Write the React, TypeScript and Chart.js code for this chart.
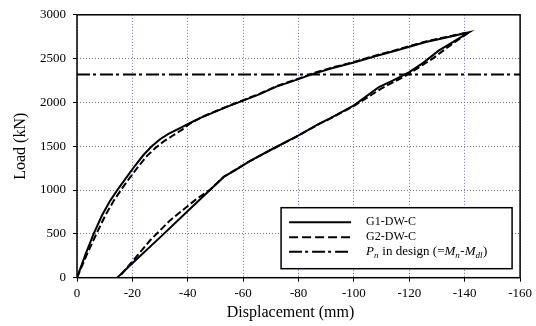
import React, { useEffect, useRef } from 'react';
import { Chart, registerables } from 'chart.js';

Chart.register(...registerables);

// G1-DW-C (solid): loading branch then unloading branch
const g1Disp = [
  0, -3, -6, -9, -12, -15, -18, -21, -24, -27, -30, -33, -37, -41, -45, -50, -55, -60, -66, -72, -80, -85, -92, -100, -108, -115, -120, -126, -133, -140, -141.5,
  -136, -130.6, -125, -120, -114, -109, -100, -91.2, -87.5, -80, -70, -62.4, -57, -53, -48, -40, -30, -20, -14.5,
];
const g1Load = [
  0, 260, 500, 710, 880, 1020, 1150, 1280, 1400, 1500, 1580, 1640, 1705, 1768, 1830, 1895, 1960, 2020, 2095, 2180, 2266, 2323, 2390, 2455, 2530, 2590, 2636, 2690, 2738, 2789, 2800,
  2695, 2591, 2452, 2345, 2250, 2174, 1966, 1815, 1758, 1625, 1460, 1330, 1225, 1150, 1000, 760, 460, 165, 0,
];

// G2-DW-C (dashed)
const g2Disp = [
  0, -3.5, -7, -10.2, -13.3, -16.3, -19.3, -22.3, -25.3, -28.3, -31.3, -34.5, -38, -41, -45, -50, -55, -60, -66, -72, -80, -85, -92, -100, -108, -115, -120, -126, -133, -140, -141.5,
  -136, -128.3, -118.6, -110, -100, -91.2, -87.5, -80, -70, -62.4, -57, -53, -48, -43.3, -33.7, -26.5, -20.5, -15,
];
const g2Load = [
  0, 260, 500, 710, 880, 1020, 1150, 1275, 1390, 1480, 1555, 1620, 1690, 1762, 1832, 1900, 1965, 2025, 2100, 2185, 2272, 2330, 2397, 2462, 2537, 2597, 2643, 2697, 2745, 2792, 2800,
  2680, 2497, 2303, 2160, 1960, 1812, 1755, 1622, 1458, 1330, 1228, 1152, 1002, 902, 657, 430, 204, 0,
];

// Pn in design (=Mn - Mdl)
const designLoad = 2320;
const designSpan = [0, -160];

const xTicks = { min: -160, max: 0, step: 20 };
const yTicks = { min: 0, max: 3000, step: 500 };

const legendLabels = ['G1-DW-C', 'G2-DW-C'];
const xTitle = 'Displacement (mm)';
const yTitle = 'Load (kN)';

const SERIF = "'Liberation Serif', 'Times New Roman', serif";

const toPoints = (xs: number[], ys: number[]) => xs.map((x, i) => ({ x, y: ys[i] }));

const framePlugin = {
  id: 'frame',
  afterDatasetsDraw(chart: any) {
    const { ctx, chartArea: a } = chart;
    ctx.save();
    ctx.strokeStyle = '#000';
    ctx.lineWidth = 1.5;
    ctx.strokeRect(a.left, a.top, a.right - a.left, a.bottom - a.top);
    ctx.restore();
  },
};

const xTitlePlugin = {
  id: 'xTitle',
  afterDraw(chart: any) {
    const { ctx, chartArea: a } = chart;
    ctx.save();
    ctx.fillStyle = '#000';
    ctx.font = `16px ${SERIF}`;
    ctx.textAlign = 'center';
    ctx.textBaseline = 'middle';
    ctx.fillText(xTitle, (a.left + a.right) / 2 - 8, a.bottom + 35);
    ctx.restore();
  },
};

const legendPlugin = {
  id: 'customLegend',
  afterDraw(chart: any) {
    const { ctx, chartArea: a } = chart;
    const w = 231;
    const h = 61;
    const right = a.right - 8;
    const bottom = a.bottom - 9;
    const left = right - w;
    const top = bottom - h;
    ctx.save();
    ctx.fillStyle = '#fff';
    ctx.fillRect(left, top, w, h);
    ctx.strokeStyle = '#000';
    ctx.lineWidth = 1.5;
    ctx.strokeRect(left, top, w, h);

    const lx0 = left + 8;
    const lx1 = left + 70;
    const tx = left + 85;
    const rows = [top + 14.5, top + 29.5, top + 44];
    const dashes = [[], [9, 4], [13, 3, 3, 4]];
    rows.forEach((ry, i) => {
      ctx.beginPath();
      ctx.setLineDash(dashes[i]);
      ctx.lineWidth = 2;
      ctx.strokeStyle = '#000';
      ctx.moveTo(lx0, ry);
      ctx.lineTo(lx1, ry);
      ctx.stroke();
    });
    ctx.setLineDash([]);
    ctx.fillStyle = '#000';
    ctx.textBaseline = 'middle';
    ctx.textAlign = 'left';
    ctx.font = `12px ${SERIF}`;
    ctx.fillText(legendLabels[0], tx, rows[0]);
    ctx.fillText(legendLabels[1], tx, rows[1]);

    const segs: [string, boolean, boolean][] = [
      ['P', true, false],
      ['n', true, true],
      [' in design (=', false, false],
      ['M', true, false],
      ['n', true, true],
      ['-', false, false],
      ['M', true, false],
      ['dl', true, true],
      [')', false, false],
    ];
    let x = tx;
    segs.forEach(([t, it, sub]) => {
      ctx.font = `${it ? 'italic ' : ''}${sub ? 9 : 13}px ${SERIF}`;
      ctx.fillText(t, x, rows[2] + (sub ? 3.5 : 0));
      x += ctx.measureText(t).width + (sub ? 0.5 : 0);
    });
    ctx.restore();
  },
};

export default function App() {
  const ref = useRef<HTMLCanvasElement | null>(null);

  useEffect(() => {
    if (!ref.current) return;
    const chart = new Chart(ref.current, {
      type: 'line',
      data: {
        datasets: [
          {
            label: legendLabels[0],
            data: toPoints(g1Disp, g1Load),
            borderColor: '#000',
            borderWidth: 2,
            pointRadius: 0,
            fill: false,
            tension: 0,
          },
          {
            label: legendLabels[1],
            data: toPoints(g2Disp, g2Load),
            borderColor: '#000',
            borderWidth: 2,
            borderDash: [7, 3],
            pointRadius: 0,
            fill: false,
            tension: 0,
          },
          {
            label: 'Pn in design',
            data: designSpan.map((x) => ({ x, y: designLoad })),
            borderColor: '#000',
            borderWidth: 2,
            borderDash: [13, 3, 3, 4],
            pointRadius: 0,
            fill: false,
          },
        ],
      },
      options: {
        responsive: false,
        animation: false,
        devicePixelRatio: 1,
        layout: { padding: { left: 0, top: 13.5, right: 14.5, bottom: 0 } },
        plugins: {
          legend: { display: false },
          tooltip: { enabled: false },
        },
        scales: {
          x: {
            type: 'linear',
            reverse: true,
            min: xTicks.min,
            max: xTicks.max,
            afterFit: (s: any) => {
              s.height = 48.3;
            },
            ticks: {
              stepSize: xTicks.step,
              color: '#000',
              padding: 4,
              maxRotation: 0,
              font: { family: SERIF, size: 13 },
              callback: (v: any) => String(v),
            },
            grid: {
              color: '#6b6bd6',
              lineWidth: 1,
              tickColor: '#000',
              tickLength: 4,
              tickWidth: 1,
              tickBorderDash: [],
            },
            border: { display: false, dash: [1, 2] },
            title: { display: false },
          },
          y: {
            type: 'linear',
            min: yTicks.min,
            max: yTicks.max,
            afterFit: (s: any) => {
              s.width = 77;
            },
            ticks: {
              stepSize: yTicks.step,
              color: '#000',
              padding: 7,
              font: { family: SERIF, size: 13 },
              callback: (v: any) => String(v),
            },
            grid: {
              color: '#777',
              lineWidth: 1,
              tickColor: '#000',
              tickLength: 4,
              tickWidth: 1,
              tickBorderDash: [],
            },
            border: { display: false, dash: [1, 2] },
            title: {
              display: true,
              text: yTitle,
              color: '#000',
              font: { family: SERIF, size: 16 },
              padding: { top: 11, bottom: 0 },
            },
          },
        },
      },
      plugins: [framePlugin, xTitlePlugin, legendPlugin],
    });
    return () => chart.destroy();
  }, []);

  return (
    <div style={{ position: 'absolute', left: 0, top: 0, width: 536, height: 326, background: '#fff' }}>
      <canvas ref={ref} width={536} height={326} style={{ display: 'block', width: 536, height: 326 }} />
    </div>
  );
}
